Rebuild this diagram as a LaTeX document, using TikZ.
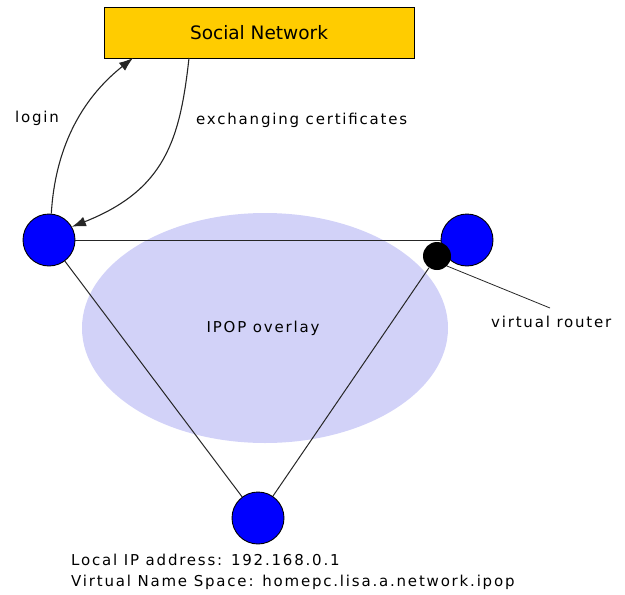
\documentclass[tikz,border=0pt]{standalone}
\usepackage{fontspec}
\setmainfont{DejaVu Sans}
\newfontfamily\labelfont[LetterSpace=12]{DejaVu Sans}
\usetikzlibrary{arrows.meta,shapes.geometric}
\definecolor{snyellow}{HTML}{FFCC00}
\definecolor{overlay}{HTML}{D2D2F8}
\definecolor{peer}{HTML}{0000FF}
\tikzset{
  peernode/.style={circle, draw=black, fill=peer, line width=0.9pt, minimum size=52pt, inner sep=0pt},
  routernode/.style={circle, fill=black, minimum size=28pt, inner sep=0pt},
  link/.style={draw=black!85, line width=1pt},
  msg/.style={draw=black!85, line width=1.1pt, -{Latex[length=14pt,width=10pt]}},
  txt/.style={font=\labelfont\fontsize{15}{18}\selectfont, inner sep=0pt}
}
\begin{document}
\begin{tikzpicture}[x=1pt,y=-1pt]
\useasboundingbox (0,0) rectangle (625,595);
% overlay area
\node[ellipse, fill=overlay, minimum width=366pt, minimum height=230pt, inner sep=0pt] (ov) at (265,328) {};
\node[txt] (ovl) at (263,328) {IPOP overlay};
% social network box
\node[draw=black, fill=snyellow, line width=0.9pt, minimum width=310pt, minimum height=51pt, inner sep=0pt,
      font=\fontsize{18.5}{22}\selectfont] (sn) at (259,32.5) {Social Network};
% peers
\node[peernode] (a) at (49,240) {};
\node[peernode] (b) at (467,240) {};
\node[peernode] (c) at (258,518) {};
\node[routernode] (r) at (437,256) {};
% overlay links
\draw[link] (a.east) -- (b.west);
\draw[link] (a) -- (c);
\draw[link] (r) -- (c);
% messages with the social network
\coordinate (snin) at (133,58);
\coordinate (snout) at (189,58);
\draw[msg] (a.85) .. controls (55,150) and (80,100) .. (snin);
\draw[msg] (snout) .. controls (180,140) and (165,190) .. (a.30);
\node[txt, anchor=west] (lg) at (15,118) {login};
\node[txt, anchor=west] (ex) at (196,120) {exchanging certificates};
% router callout
\coordinate (vr) at (550,308);
\draw[link, line width=0.8pt] (r.south east) -- (vr);
\node[txt, anchor=west] (vrl) at (491,322) {virtual router};
% address text
\node[txt, anchor=west] (ip) at (71,560) {Local IP address: 192.168.0.1};
\node[txt, anchor=west] (ns) at (71,582) {Virtual Name Space: homepc.lisa.a.network.ipop};
\end{tikzpicture}
\end{document}
